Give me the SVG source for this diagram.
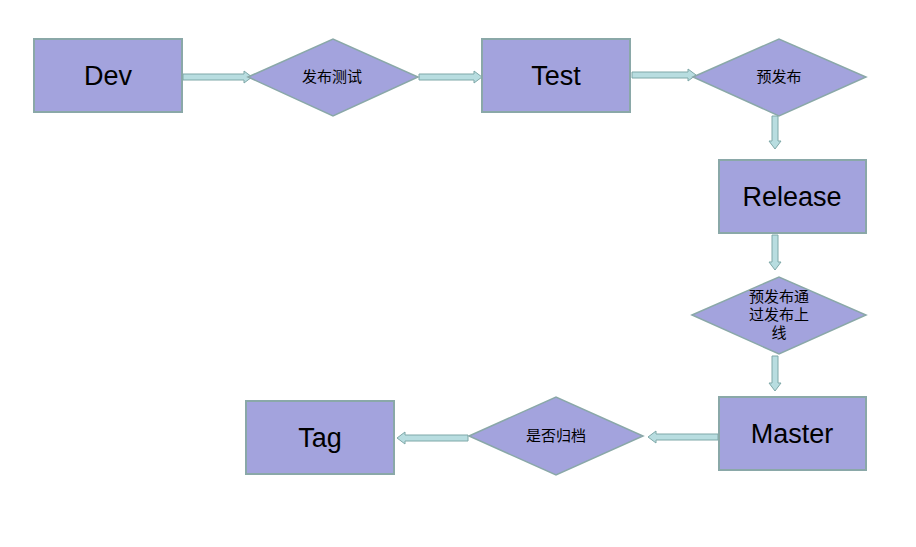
<svg xmlns="http://www.w3.org/2000/svg" width="916" height="547" viewBox="0 0 916 547">
<style>
.box{fill:#a3a3dd;stroke:#8aa8a8;stroke-width:2}
.dia{fill:#a3a3dd;stroke:#8aa8a8;stroke-width:1.5}
.arr{fill:#b8dde0;stroke:#7fa8a8;stroke-width:1}
.big{font-family:"Liberation Sans",Arial,sans-serif;font-size:27px;fill:#000;text-anchor:middle}
.cjk{font-family:"Liberation Sans","Noto Sans CJK SC",sans-serif;font-size:15px;fill:#000;text-anchor:middle}
</style>
<rect width="916" height="547" fill="#fff"/>
<g id="connectors">
<polygon class="arr" points="183,74 244,74 244,71 252,77 244,83 244,80 183,80"/>
<polygon class="arr" points="419,74 474,74 474,71 482,77 474,83 474,80 419,80"/>
<polygon class="arr" points="632,72 688,72 688,69 696,75 688,81 688,78 632,78"/>
<polygon class="arr" points="772,116 772,141 769,141 775,149 781,141 778,141 778,116"/>
<polygon class="arr" points="772,235 772,262 769,262 775,270 781,262 778,262 778,235"/>
<polygon class="arr" points="772,356 772,383 769,383 775,391 781,383 778,383 778,356"/>
<polygon class="arr" points="718,434 656,434 656,431 648,437 656,443 656,440 718,440"/>
<polygon class="arr" points="468,435 405,435 405,432 397,438 405,444 405,441 468,441"/>
</g>
<g id="dev"><rect class="box" x="34" y="39" width="148" height="73"/><text class="big" x="108" y="85">Dev</text></g>
<g id="d1"><polygon class="dia" points="248,77 333,39 418,77 333,116"/><text class="cjk" x="332" y="82">发布测试</text></g>
<g id="test"><rect class="box" x="482" y="39" width="148" height="73"/><text class="big" x="556" y="85">Test</text></g>
<g id="d2"><polygon class="dia" points="693,77 779,39 866,77 779,116"/><text class="cjk" x="779" y="82">预发布</text></g>
<g id="release"><rect class="box" x="719" y="160" width="147" height="73"/><text class="big" x="792" y="206">Release</text></g>
<g id="d3"><polygon class="dia" points="692,315 779,277 866,315 779,354"/><text class="cjk" x="779" y="302">预发布通</text><text class="cjk" x="779" y="320">过发布上</text><text class="cjk" x="779" y="338">线</text></g>
<g id="master"><rect class="box" x="719" y="397" width="147" height="73"/><text class="big" x="792" y="443">Master</text></g>
<g id="d4"><polygon class="dia" points="469,436 556,397 643,436 556,475"/><text class="cjk" x="556" y="441">是否归档</text></g>
<g id="tag"><rect class="box" x="246" y="401" width="148" height="73"/><text class="big" x="320" y="447">Tag</text></g>
</svg>
